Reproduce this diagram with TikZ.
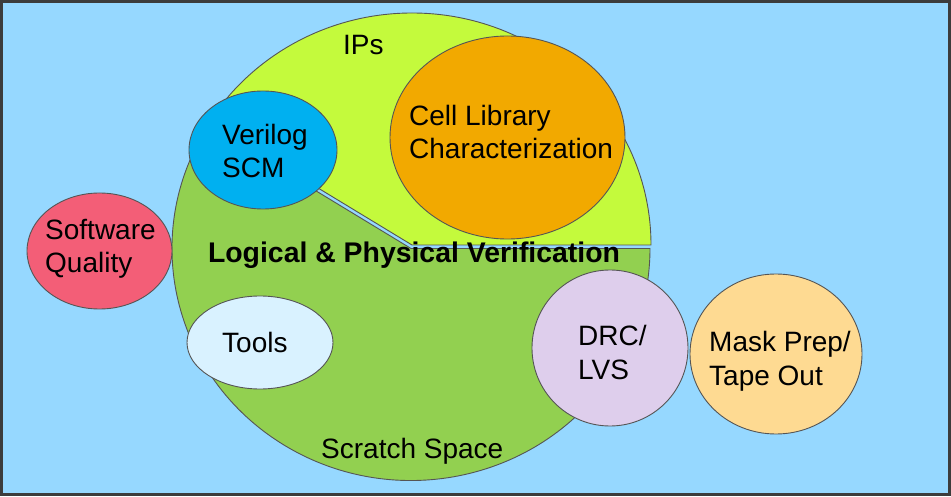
\documentclass[tikz,border=0pt]{standalone}
\usepackage{fontspec}
\setmainfont{Liberation Sans}
\usetikzlibrary{shapes.geometric}
\definecolor{bgblue}{RGB}{150,216,255}
\definecolor{framegray}{RGB}{60,60,60}
\definecolor{pgreen}{RGB}{146,208,80}
\definecolor{pyellow}{RGB}{196,250,60}
\definecolor{pblue}{RGB}{0,176,240}
\definecolor{porange}{RGB}{242,169,0}
\definecolor{ppink}{RGB}{243,94,119}
\definecolor{plight}{RGB}{217,242,255}
\definecolor{plav}{RGB}{222,206,236}
\definecolor{ppeach}{RGB}{254,218,146}
\definecolor{edgegray}{RGB}{85,85,85}
\tikzset{
  blob/.style={ellipse, draw=edgegray, line width=0.9pt, inner sep=0pt},
  lbl/.style={font=\fontsize{28}{33.5}\selectfont, align=left, inner sep=0pt, anchor=base west},
  pieedge/.style={draw=edgegray, line width=0.9pt},
}
\begin{document}
\begin{tikzpicture}[x=1pt,y=1pt]
\useasboundingbox (0,0) rectangle (951,496);
\draw[fill=bgblue, draw=framegray, line width=3pt] (1.5,1.5) rectangle (949.5,494.5);
% pie slices
\coordinate (gc) at (411,247.5);
\coordinate (yc) at (412,251);
\draw[pieedge, fill=pgreen] (gc) -- ++(148:239 and 232)
  arc[start angle=148, end angle=360, x radius=239, y radius=232] -- cycle;
\draw[pieedge, fill=pyellow] (yc) -- ++(0:239 and 232)
  arc[start angle=0, end angle=148, x radius=239, y radius=232] -- cycle;
% ellipses
\node[blob, fill=pblue, minimum width=148pt, minimum height=118pt] (verilog) at (263,346) {};
\node[blob, fill=porange, minimum width=235pt, minimum height=203pt] (cell) at (507.5,358.5) {};
\node[blob, fill=ppink, minimum width=145pt, minimum height=116pt] (soft) at (99.5,245) {};
\node[blob, fill=plight, minimum width=146pt, minimum height=93pt] (tools) at (260,153.5) {};
\node[blob, fill=plav, minimum width=156pt, minimum height=156pt] (drc) at (610,148) {};
\node[blob, fill=ppeach, minimum width=172pt, minimum height=160pt] (mask) at (776,142) {};
% labels (base anchor = baseline of last line)
\node[lbl] (ipsT) at (343,441) {IPs};
\node[lbl] (verilogT) at (222,318) {Verilog\\SCM};
\node[lbl] (cellT) at (409,337) {Cell Library\\Characterization};
\node[lbl] (softT) at (45,223) {Software\\Quality};
\node[lbl, anchor=base, font=\fontsize{28.4}{33.5}\selectfont\bfseries] (lpvT) at (414,233) {Logical \& Physical Verification};
\node[lbl] (toolsT) at (222,143) {Tools};
\node[lbl] (drcT) at (578,117) {DRC/\\LVS};
\node[lbl] (maskT) at (709,111) {Mask Prep/\\Tape Out};
\node[lbl] (scratchT) at (321,38) {Scratch Space};
\end{tikzpicture}
\end{document}
